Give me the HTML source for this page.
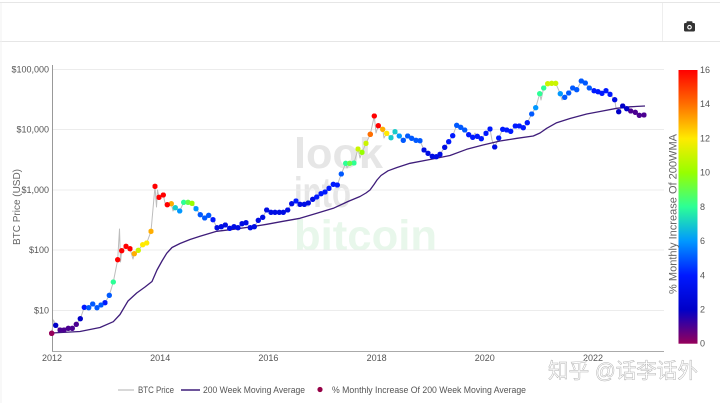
<!DOCTYPE html>
<html>
<head>
<meta charset="utf-8">
<style>
html,body{margin:0;padding:0;background:#fff;}
body{width:720px;height:403px;overflow:hidden;}
svg{display:block;}
text{font-family:"Liberation Sans","Noto Sans CJK SC",sans-serif;}
.dots polyline{fill:none;stroke:none;}
</style>
</head>
<body>
<svg width="720" height="403" viewBox="0 0 720 403" xmlns="http://www.w3.org/2000/svg">
<defs>
<linearGradient id="cb" x1="0" y1="1" x2="0" y2="0">
<stop offset="0" stop-color="rgb(150,0,90)"/>
<stop offset="0.125" stop-color="rgb(0,0,200)"/>
<stop offset="0.25" stop-color="rgb(0,25,255)"/>
<stop offset="0.375" stop-color="rgb(0,152,255)"/>
<stop offset="0.5" stop-color="rgb(44,255,150)"/>
<stop offset="0.625" stop-color="rgb(151,255,0)"/>
<stop offset="0.75" stop-color="rgb(255,234,0)"/>
<stop offset="0.875" stop-color="rgb(255,111,0)"/>
<stop offset="1" stop-color="rgb(255,0,0)"/>
</linearGradient>
<marker id="m0" viewBox="0 0 6 6" refX="3" refY="3" markerWidth="5.4" markerHeight="5.4" markerUnits="userSpaceOnUse"><circle cx="3" cy="3" r="3" fill="rgb(150,0,90)"/></marker>
<marker id="m1" viewBox="0 0 6 6" refX="3" refY="3" markerWidth="5.4" markerHeight="5.4" markerUnits="userSpaceOnUse"><circle cx="3" cy="3" r="3" fill="rgb(75,0,145)"/></marker>
<marker id="m2" viewBox="0 0 6 6" refX="3" refY="3" markerWidth="5.4" markerHeight="5.4" markerUnits="userSpaceOnUse"><circle cx="3" cy="3" r="3" fill="rgb(0,0,200)"/></marker>
<marker id="m3" viewBox="0 0 6 6" refX="3" refY="3" markerWidth="5.4" markerHeight="5.4" markerUnits="userSpaceOnUse"><circle cx="3" cy="3" r="3" fill="rgb(0,13,228)"/></marker>
<marker id="m4" viewBox="0 0 6 6" refX="3" refY="3" markerWidth="5.4" markerHeight="5.4" markerUnits="userSpaceOnUse"><circle cx="3" cy="3" r="3" fill="rgb(0,25,255)"/></marker>
<marker id="m5" viewBox="0 0 6 6" refX="3" refY="3" markerWidth="5.4" markerHeight="5.4" markerUnits="userSpaceOnUse"><circle cx="3" cy="3" r="3" fill="rgb(0,89,255)"/></marker>
<marker id="m6" viewBox="0 0 6 6" refX="3" refY="3" markerWidth="5.4" markerHeight="5.4" markerUnits="userSpaceOnUse"><circle cx="3" cy="3" r="3" fill="rgb(0,152,255)"/></marker>
<marker id="m7" viewBox="0 0 6 6" refX="3" refY="3" markerWidth="5.4" markerHeight="5.4" markerUnits="userSpaceOnUse"><circle cx="3" cy="3" r="3" fill="rgb(22,204,203)"/></marker>
<marker id="m8" viewBox="0 0 6 6" refX="3" refY="3" markerWidth="5.4" markerHeight="5.4" markerUnits="userSpaceOnUse"><circle cx="3" cy="3" r="3" fill="rgb(44,255,150)"/></marker>
<marker id="m9" viewBox="0 0 6 6" refX="3" refY="3" markerWidth="5.4" markerHeight="5.4" markerUnits="userSpaceOnUse"><circle cx="3" cy="3" r="3" fill="rgb(98,255,75)"/></marker>
<marker id="m10" viewBox="0 0 6 6" refX="3" refY="3" markerWidth="5.4" markerHeight="5.4" markerUnits="userSpaceOnUse"><circle cx="3" cy="3" r="3" fill="rgb(151,255,0)"/></marker>
<marker id="m11" viewBox="0 0 6 6" refX="3" refY="3" markerWidth="5.4" markerHeight="5.4" markerUnits="userSpaceOnUse"><circle cx="3" cy="3" r="3" fill="rgb(203,245,0)"/></marker>
<marker id="m12" viewBox="0 0 6 6" refX="3" refY="3" markerWidth="5.4" markerHeight="5.4" markerUnits="userSpaceOnUse"><circle cx="3" cy="3" r="3" fill="rgb(255,234,0)"/></marker>
<marker id="m13" viewBox="0 0 6 6" refX="3" refY="3" markerWidth="5.4" markerHeight="5.4" markerUnits="userSpaceOnUse"><circle cx="3" cy="3" r="3" fill="rgb(255,173,0)"/></marker>
<marker id="m14" viewBox="0 0 6 6" refX="3" refY="3" markerWidth="5.4" markerHeight="5.4" markerUnits="userSpaceOnUse"><circle cx="3" cy="3" r="3" fill="rgb(255,111,0)"/></marker>
<marker id="m16" viewBox="0 0 6 6" refX="3" refY="3" markerWidth="5.4" markerHeight="5.4" markerUnits="userSpaceOnUse"><circle cx="3" cy="3" r="3" fill="rgb(255,0,0)"/></marker>
</defs>
<rect x="0" y="0" width="720" height="403" fill="#fff"/>
<line x1="0" y1="2.5" x2="720" y2="2.5" stroke="#e6e6e6"/>
<line x1="0" y1="41.5" x2="720" y2="41.5" stroke="#e6e6e6"/>
<line x1="662.5" y1="3" x2="662.5" y2="41" stroke="#eeeeee"/>
<line x1="1" y1="3" x2="1" y2="403" stroke="#f0f0f0"/>
<rect x="684" y="23" width="11" height="8.5" rx="1.2" fill="#333"/>
<rect x="686.5" y="21.3" width="6" height="2.5" rx="0.8" fill="#333"/>
<circle cx="689.5" cy="27.2" r="2.3" fill="#fff"/>
<circle cx="689.5" cy="27.2" r="1.2" fill="#333"/>

<g font-weight="bold" font-size="43">
<text x="294" y="168" fill="#e6e6e6" textLength="89" lengthAdjust="spacingAndGlyphs">look</text>
<text x="294" y="207" fill="#e6e6e6" textLength="57" lengthAdjust="spacingAndGlyphs">into</text>
<text x="294" y="250" fill="#e8f7eb" textLength="143" lengthAdjust="spacingAndGlyphs">bitcoin</text>
</g>

<path d="M52 69.5H664M52 129.5H664M52 190H664M52 250H664M52 310.5H664" stroke="#ececec" fill="none"/>
<line x1="52.5" y1="65" x2="52.5" y2="351.5" stroke="#999"/>
<line x1="52" y1="351.5" x2="664" y2="351.5" stroke="#aaa"/>

<g font-size="9" fill="#555" text-anchor="end">
<text x="49" y="72.5">$100,000</text>
<text x="49" y="132.5">$10,000</text>
<text x="49" y="193">$1,000</text>
<text x="49" y="253">$100</text>
<text x="49" y="313.5">$10</text>
</g>
<g font-size="9" fill="#555" text-anchor="middle">
<text x="52" y="361">2012</text>
<text x="160.2" y="361">2014</text>
<text x="268.4" y="361">2016</text>
<text x="376.6" y="361">2018</text>
<text x="484.8" y="361">2020</text>
<text x="593" y="361">2022</text>
</g>
<text transform="translate(20,207) rotate(-90)" text-anchor="middle" font-size="10.5" fill="#666" textLength="76" lengthAdjust="spacingAndGlyphs">BTC Price (USD)</text>

<polyline fill="none" stroke="#bdbdbd" stroke-width="1" stroke-linejoin="round" points="51.7,333.3 53.5,320 55.7,325.3 60,330 64,330 68.3,328.3 72.3,328.3 76.3,324.3 80.3,318.7 84.3,307.3 88.7,307.7 92.7,304 97,307.7 101,305 105,302.7 109.3,295.3 113.3,282 117.7,259.7 119.5,229 120.5,262 121.7,250.7 126,246.3 130,248.7 133,259 134.3,253.7 138.3,250.3 142.7,244.7 146.7,243 151,231.3 155,186.3 156.5,207 157.5,190 159,197.3 163.3,195 165,203 167.3,204.7 171.3,203.7 173,211 175.3,207.7 179.7,211 183.7,202.3 188,202.3 192,203.3 196,208.7 200.3,214.7 204.7,218 208.7,215.3 213,219.7 217,227.7 221.3,226.7 225.3,225 229.7,228.3 234,226.7 238,227.7 242,223.7 246,222.7 250.3,227.7 254.3,226.7 258.3,220.3 262.7,217.3 266.7,210 271,212.3 275,212.3 279.3,212.3 283.3,212.3 287.7,210 291.7,203.7 296,201 300,204.3 304.3,204.3 308.3,203 312.7,199.3 316.7,197 321,193.7 325,192 329,188.3 333.3,184.3 337.3,185 341.3,174 345.7,163.3 347,168 349.7,163.3 354,163 358,149 360,158 362,152.3 366,143.3 370.3,134.3 374.3,116 376,133 378.3,125.7 382.7,129.3 384,138 386.7,133.3 391,137.7 395,131.7 399.3,136 403.3,140.3 407.7,136 411.7,138.3 416,140.3 420,140.7 424,150 428,153.3 432.3,156.3 436.3,156.7 440,154.3 444.7,147.3 448.7,141.7 452.7,135.7 456.7,125.3 460.7,127.3 464.7,130 468.7,134.7 472.7,137.3 475,133 477.3,136.3 481.3,138.7 486,133.3 490,129 492,140 494.7,147 498.7,138 502.7,129.3 506.7,130 510.7,131.3 515.3,126 519.3,126 523.3,127.7 527.3,122.7 531.7,114 535.7,107.7 539.7,93.7 541,100 543.7,88 547.7,83.7 551.7,83.3 555.7,83.3 560.3,93.7 562,100 564.7,97.3 568.7,93 572.7,88 576.7,89.7 581.3,81 585.3,83 589.3,88 594,90.7 598,91.7 602,93.3 606,90.7 610,94.3 614.7,99.7 616,108 618.7,111.7 622.7,106 626.7,108.7 630.7,111 635.3,112.3 639.3,115.3 644,115"/>

<polyline fill="none" stroke="#3f1d7a" stroke-width="1.3" stroke-linejoin="round" points="51.7,333 80,331.5 100,327.5 113.3,321.7 120,314.5 128,301 136.7,293 145,287 152,281.5 157,270 162,261 166.7,253.3 172,247.5 180,243.5 190,239.5 200,236.3 216.7,231.3 233.3,229.3 250,227 266.7,224.3 283,221.3 300,218.3 316,213.5 333.3,208.3 348,201.5 360,196.5 366,193 370,190 374,184.5 377,180 381,175.5 388,170.8 397,167.5 410,163.3 430,159.5 450,155.5 466.7,149.3 483,145 500,141 517,138.3 533.3,136 540,133 546.7,128.3 556.7,122.7 570,118.5 586.7,114 600,111.5 616.7,108.3 630,106.8 645,106"/>

<g class="dots">
<polyline style="marker:url(#m3)" points="217,227.7 221.3,226.7 225.3,225 229.7,228.3 234,226.7 238,227.7 242,223.7 246,222.7 250.3,227.7 254.3,226.7 258.3,220.3 262.7,217.3 266.7,210 271,212.3 275,212.3 279.3,212.3 283.3,212.3 287.7,210 291.7,203.7 300,204.3 304.3,204.3 308.3,203 312.7,199.3 424,150 428,153.3 432.3,156.3 436.3,156.7 440,154.3 444.7,147.3 494.7,147 614.7,99.7"/>
<polyline style="marker:url(#m4)" points="84.3,307.3 105,302.7 213,219.7 296,201 316.7,197 321,193.7 325,192 329,188.3 333.3,184.3 337.3,185 448.7,141.7 452.7,135.7 468.7,134.7 472.7,137.3 477.3,136.3 481.3,138.7 486,133.3 490,129 498.7,138 502.7,129.3 506.7,130 510.7,131.3 515.3,126 519.3,126 523.3,127.7 527.3,122.7 594,90.7 598,91.7 602,93.3 606,90.7 610,94.3"/>
<polyline style="marker:url(#m5)" points="88.7,307.7 92.7,304 97,307.7 101,305 109.3,295.3 200.3,214.7 204.7,218 208.7,215.3 341.3,174 403.3,140.3 407.7,136 411.7,138.3 416,140.3 420,140.7 456.7,125.3 460.7,127.3 464.7,130 531.7,114 564.7,97.3 568.7,93 572.7,88 576.7,89.7 581.3,81 585.3,83 589.3,88"/>
<polyline style="marker:url(#m0)" points="51.7,333.3 51.7,333.3"/>
<polyline style="marker:url(#m1)" points="60,330 64,330 68.3,328.3 72.3,328.3 76.3,324.3 630.7,111 635.3,112.3 639.3,115.3 644,115"/>
<polyline style="marker:url(#m2)" points="55.7,325.3 80.3,318.7 618.7,111.7 622.7,106 626.7,108.7"/>
<polyline style="marker:url(#m6)" points="179.7,211 196,208.7 399.3,136 535.7,107.7 560.3,93.7"/>
<polyline style="marker:url(#m7)" points="175.3,207.7 391,137.7 395,131.7"/>
<polyline style="marker:url(#m8)" points="113.3,282 183.7,202.3 345.7,163.3 354,163 539.7,93.7 543.7,88"/>
<polyline style="marker:url(#m9)" points="188,202.3 349.7,163.3"/>
<polyline style="marker:url(#m10)" points="192,203.3 362,152.3"/>
<polyline style="marker:url(#m11)" points="138.3,250.3 358,149 366,143.3 547.7,83.7 551.7,83.3 555.7,83.3"/>
<polyline style="marker:url(#m12)" points="142.7,244.7 146.7,243 386.7,133.3"/>
<polyline style="marker:url(#m13)" points="134.3,253.7 151,231.3 171.3,203.7 382.7,129.3"/>
<polyline style="marker:url(#m14)" points="370.3,134.3 370.3,134.3"/>
<polyline style="marker:url(#m16)" points="117.7,259.7 121.7,250.7 126,246.3 130,248.7 155,186.3 159,197.3 163.3,195 167.3,204.7 374.3,116 378.3,125.7"/>
</g>

<rect x="678.5" y="70" width="19" height="273.7" fill="url(#cb)"/>
<g font-size="9" fill="#555">
<text x="700" y="73">16</text>
<text x="700" y="107.2">14</text>
<text x="700" y="141.4">12</text>
<text x="700" y="175.6">10</text>
<text x="700" y="209.9">8</text>
<text x="700" y="244.1">6</text>
<text x="700" y="278.3">4</text>
<text x="700" y="312.5">2</text>
<text x="700" y="346.7">0</text>
</g>
<text transform="translate(676.5,214) rotate(-90)" text-anchor="middle" font-size="11" fill="#666" textLength="160" lengthAdjust="spacingAndGlyphs">% Monthly Increase Of 200WMA</text>

<line x1="118" y1="390" x2="134" y2="390" stroke="#bdbdbd" stroke-width="1.2"/>
<text x="138" y="393" font-size="9" fill="#555" textLength="36" lengthAdjust="spacingAndGlyphs">BTC Price</text>
<line x1="181" y1="390" x2="200" y2="390" stroke="#3f1d7a" stroke-width="1.5"/>
<text x="203" y="393" font-size="9" fill="#555" textLength="102" lengthAdjust="spacingAndGlyphs">200 Week Moving Average</text>
<circle cx="320" cy="389.5" r="2.6" fill="rgb(150,0,70)"/>
<text x="332" y="393" font-size="9" fill="#555" textLength="194" lengthAdjust="spacingAndGlyphs">% Monthly Increase Of 200 Week Moving Average</text>

<text x="548" y="378" font-size="21" fill="#ffffff" stroke="#b4b4b4" stroke-width="0.5" textLength="150" lengthAdjust="spacingAndGlyphs">知乎 @话李话外</text>
</svg>
</body>
</html>
